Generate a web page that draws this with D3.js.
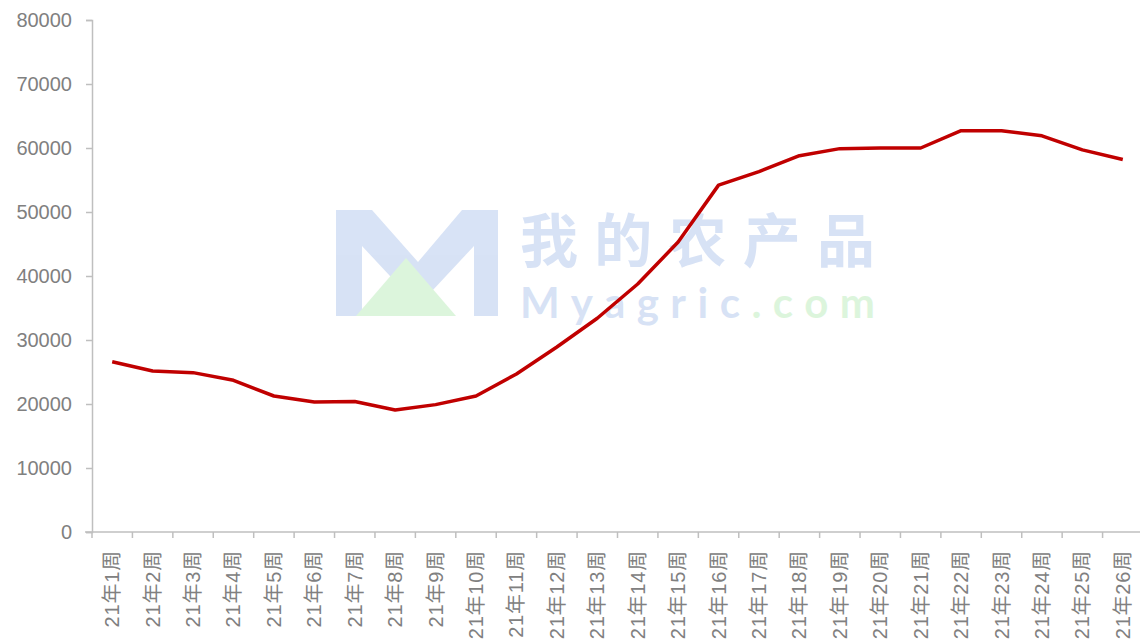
<!DOCTYPE html>
<html>
<head>
<meta charset="utf-8">
<script src="https://cdn.jsdelivr.net/npm/d3@7"></script>
<style>
  body { margin: 0; background: #fff; }
  svg { display: block; font-family: "Liberation Sans", "Noto Sans CJK SC", sans-serif; }
</style>
</head>
<body>
<svg id="chart"></svg>
<script>
const weeks = d3.range(1, 27).map((w) => '21年' + w + '周');
const prices = [26600, 25150, 24900, 23700, 21250, 20300, 20400, 19050, 19900, 21250,
  24700, 28900, 33400, 38750, 45300, 54200, 56300, 58800, 59900, 60000,
  60000, 62700, 62700, 61900, 59700, 58200];
const yTicks = [0, 10000, 20000, 30000, 40000, 50000, 60000, 70000, 80000];

const width = 1140;
const height = 643;
const margin = {top: 20, right: -3, bottom: 111, left: 92};

const svg = d3.select('#chart')
    .attr('width', width)
    .attr('height', height);

const x = d3.scaleBand()
    .domain(weeks)
    .range([margin.left, width - margin.right]);

const y = d3.scaleLinear()
    .domain([0, 80000])
    .range([height - margin.bottom, margin.top]);

// watermark
const wm = svg.append('g').attr('opacity', 0.3);
wm.append('path')
    .attr('d', 'M336,210 L372,210 L418,262 L462,210 L498,210 L498,316 L474,316 L474,246 L418,306 L362,246 L362,316 L336,316 Z')
    .attr('fill', '#7ea1e0');
wm.append('path')
    .attr('d', 'M356,316 L406,258 L456,316 Z')
    .attr('fill', '#8fe08f');
wm.append('text')
    .attr('x', 520).attr('y', 262)
    .attr('font-size', 58).attr('font-weight', 'bold')
    .attr('font-family', 'Noto Sans CJK SC')
    .attr('textLength', 355)
    .attr('fill', '#7ea1e0')
    .text('我的农产品');
const wmText = wm.append('text')
    .attr('x', 520).attr('y', 318)
    .attr('font-size', 42).attr('font-weight', 'bold')
    .attr('font-family', 'Lato, sans-serif')
    .attr('fill', '#7ea1e0');
wmText.append('tspan').text('Myagric');
wmText.append('tspan').attr('fill', '#8fe08f').text('.com');
wmText.attr('textLength', 355);

// y axis
const yAxis = svg.append('g')
    .attr('transform', `translate(${margin.left},0)`)
    .call(d3.axisLeft(y).tickValues(yTicks).tickSize(6).tickPadding(14).tickFormat(d3.format('d')));
yAxis.selectAll('path, line').attr('stroke', '#bfbfbf').attr('stroke-width', 1.5);
yAxis.selectAll('text')
    .attr('font-size', 20)
    .attr('fill', '#808080');

// x axis
const xAxis = svg.append('g')
    .attr('transform', `translate(0,${y(0)})`)
    .call(d3.axisBottom(x).tickSize(0).tickFormat(''));
xAxis.select('.domain')
    .attr('d', `M${margin.left - 7},0H${width}`)
    .attr('stroke', '#bfbfbf').attr('stroke-width', 1.5);
xAxis.selectAll('.tick').remove();
xAxis.selectAll('.sep')
    .data(weeks)
    .enter()
    .append('line')
    .attr('x1', (d) => x(d))
    .attr('x2', (d) => x(d))
    .attr('y1', 0)
    .attr('y2', 6)
    .attr('stroke', '#bfbfbf')
    .attr('stroke-width', 1.5);

svg.append('g')
    .selectAll('text')
    .data(weeks)
    .enter()
    .append('text')
    .attr('transform', (d) => `translate(${x(d) + x.bandwidth() / 2 + 7},${y(0) + 18}) rotate(-90)`)
    .attr('text-anchor', 'end')
    .attr('font-size', 20)
    .attr('letter-spacing', 0.8)
    .attr('fill', '#808080')
    .text((d) => d);

// line
const line = d3.line()
    .x((d, i) => x(weeks[i]) + x.bandwidth() / 2)
    .y((d) => y(d));

svg.append('path')
    .datum(prices)
    .attr('fill', 'none')
    .attr('stroke', '#c00000')
    .attr('stroke-width', 3.5)
    .attr('stroke-linejoin', 'round')
    .attr('d', line);
</script>
</body>
</html>
